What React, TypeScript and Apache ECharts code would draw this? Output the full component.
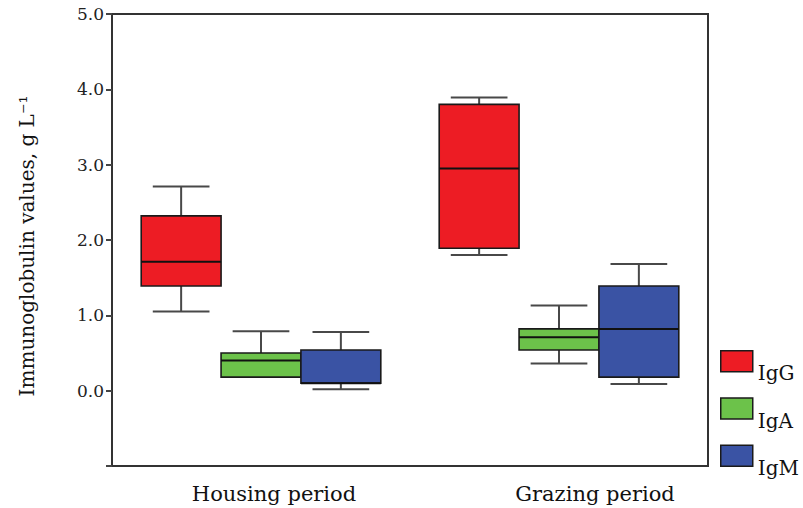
import React, { useEffect, useRef } from 'react';
import * as echarts from 'echarts';

const categories = ['Housing period', 'Grazing period'];
const seriesNames = ['IgG', 'IgA', 'IgM'];
// each row: [min, Q1, median, Q3, max] for Housing, Grazing
const igG = [
  [1.05, 1.39, 1.71, 2.32, 2.71],
  [1.8, 1.89, 2.95, 3.8, 3.89],
];
const igA = [
  [0.18, 0.18, 0.4, 0.5, 0.79],
  [0.36, 0.54, 0.71, 0.82, 1.13],
];
const igM = [
  [0.02, 0.1, 0.1, 0.54, 0.78],
  [0.09, 0.18, 0.82, 1.39, 1.68],
];
const colors = ['#ED1C24', '#6CC24A', '#3A53A4'];
const yMin = -1;
const yMax = 5;
const yStep = 1;
const yTitle = 'Immunoglobulin values, g L⁻¹';

const FONT = 'DejaVu Serif';

export default function App() {
  const ref = useRef<HTMLDivElement>(null);
  useEffect(() => {
    if (!ref.current) return;
    const chart = echarts.init(ref.current, null, { renderer: 'svg' });
    const all = [igG, igA, igM];

    const renderItem = (params: any, api: any) => {
      const cat = api.value(0);
      const vmin = api.value(1);
      const q1 = api.value(2);
      const med = api.value(3);
      const q3 = api.value(4);
      const vmax = api.value(5);
      const band = api.size([1, 0])[0];
      const boxW = band * 0.268;
      const capW = boxW * 0.71;
      const sIdx = params.seriesIndex;
      const cx = api.coord([cat, 0])[0] + (sIdx - 1) * boxW;
      const y = (v: number) => api.coord([cat, v])[1];
      const wStyle = { stroke: '#484848', lineWidth: 2, fill: null };
      const children: any[] = [];
      if (vmax > q3) {
        children.push({ type: 'line', shape: { x1: cx, y1: y(vmax), x2: cx, y2: y(q3) }, style: wStyle });
        children.push({ type: 'line', shape: { x1: cx - capW / 2, y1: y(vmax), x2: cx + capW / 2, y2: y(vmax) }, style: wStyle });
      }
      if (vmin < q1) {
        children.push({ type: 'line', shape: { x1: cx, y1: y(q1), x2: cx, y2: y(vmin) }, style: wStyle });
        children.push({ type: 'line', shape: { x1: cx - capW / 2, y1: y(vmin), x2: cx + capW / 2, y2: y(vmin) }, style: wStyle });
      }
      children.push({
        type: 'rect',
        shape: { x: cx - boxW / 2, y: y(q3), width: boxW, height: y(q1) - y(q3) },
        style: { fill: colors[sIdx], stroke: '#1a1a1a', lineWidth: 1.6 },
      });
      children.push({
        type: 'line',
        shape: { x1: cx - boxW / 2, y1: y(med), x2: cx + boxW / 2, y2: y(med) },
        style: { stroke: '#111', lineWidth: 2 },
      });
      return { type: 'group', children };
    };

    const series = seriesNames.map((name, i) => ({
      name,
      type: 'custom',
      renderItem,
      itemStyle: { color: colors[i], borderColor: '#1a1a1a', borderWidth: 1.5 },
      encode: { x: 0, y: [1, 2, 3, 4, 5] },
      data: all[i].map((row, c) => [c, ...row]),
    }));

    chart.setOption({
      animation: false,
      backgroundColor: '#fff',
      grid: {
        left: 112,
        right: 95,
        top: 14,
        bottom: 42,
        show: true,
        borderColor: '#333',
        borderWidth: 2,
      },
      legend: {
        orient: 'vertical',
        left: 720,
        top: 350,
        padding: 0,
        itemWidth: 32,
        itemHeight: 21,
        itemGap: 14,
        formatter: '{t|{name}}',
        textStyle: {
          fontFamily: FONT,
          fontSize: 20,
          color: '#111',
          rich: { t: { fontFamily: FONT, fontSize: 20, color: '#111', padding: [24, 0, 0, 0] } },
        },
        data: seriesNames.map((n, i) => ({
          name: n,
          icon: 'rect',
          itemStyle: { color: colors[i], borderColor: '#1a1a1a', borderWidth: 1.5 },
        })),
      },
      xAxis: {
        type: 'category',
        data: [
          { value: categories[0], textStyle: { padding: [0, 0, 0, 26] } },
          { value: categories[1], textStyle: { padding: [0, 0, 0, 72] } },
        ],
        axisLine: { onZero: false, lineStyle: { color: '#333', width: 2 } },
        axisTick: { alignWithLabel: true, length: 5, lineStyle: { color: '#444', width: 2 } },
        axisLabel: { fontFamily: FONT, fontSize: 21, color: '#111', margin: 17 },
      },
      yAxis: {
        type: 'value',
        min: yMin,
        max: yMax,
        interval: yStep,
        name: yTitle,
        nameLocation: 'middle',
        nameRotate: 90,
        nameGap: 75,
        nameTextStyle: { fontFamily: FONT, fontSize: 20, color: '#111', padding: [0, 12, 0, 0] },
        splitLine: { show: false },
        axisLine: { show: true, lineStyle: { color: '#333', width: 2 } },
        axisTick: { show: true, length: 6, lineStyle: { color: '#444', width: 2 } },
        axisLabel: {
          fontFamily: FONT,
          fontSize: 17,
          color: '#222',
          margin: 8,
          padding: [8, 0, 0, 0],
          formatter: (v: number) => (v < 0 ? '' : v.toFixed(1)),
        },
      },
      series,
    });
    return () => chart.dispose();
  }, []);
  return <div ref={ref} style={{ position: 'absolute', left: 0, top: 0, width: 803, height: 508 }} />;
}
